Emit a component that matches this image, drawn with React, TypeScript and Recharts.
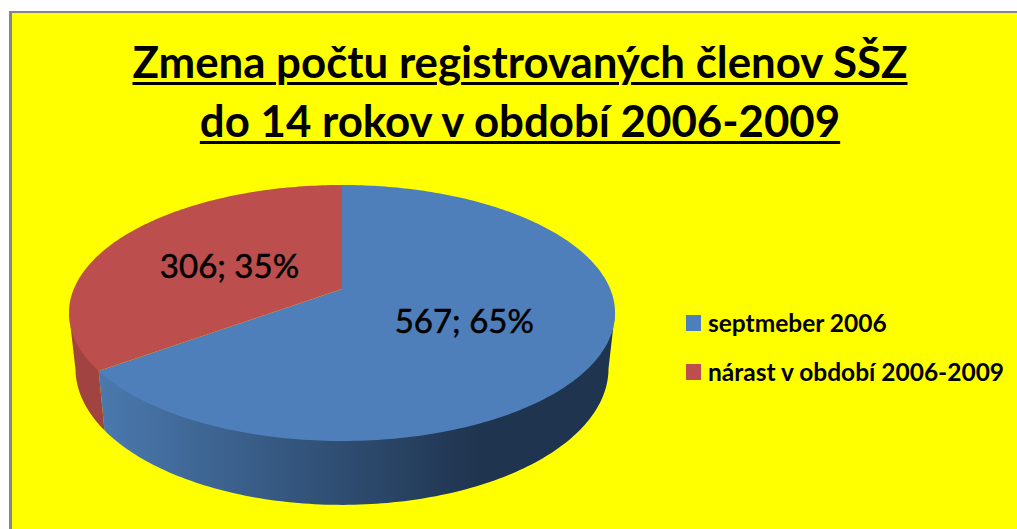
import { PieChart, Pie, Legend } from 'recharts'

const categories = ['septmeber 2006', 'nárast v období 2006-2009']
const values = [567, 306]
const colors = ['#4f7fba', '#bc4f4d']
const titleLines = ['Zmena počtu registrovaných členov SŠZ', 'do 14 rokov v období 2006-2009']

const data = categories.map((name, i) => ({ name, value: values[i], fill: colors[i] }))

const FONT = 'Lato, "Open Sans", sans-serif'

// 3D tilt of the pie: circle -> perspective projection, fitted to the picture
const CX = 342
const CY = 289
const KX = 268.2
const KY = 123.5
const K = 0.1875
const DEPTH = 54
const BOTTOM_SX = 0.976
const BOTTOM_SY = 1.065

function project(deg: number, r = 1) {
  const a = (deg * Math.PI) / 180
  const x = Math.cos(a) * r
  const y = -Math.sin(a) * r
  const w = 1 - K * y
  return { x: CX + (KX * x) / w, y: CY + (KY * y) / w, unit: y }
}

function arcPoints(start: number, end: number) {
  const steps = Math.max(2, Math.ceil(Math.abs(end - start)))
  const pts = []
  for (let i = 0; i <= steps; i++) {
    pts.push(project(start + ((end - start) * i) / steps))
  }
  return pts
}

function toPath(pts: { x: number; y: number }[]) {
  return pts.map((p, i) => `${i ? 'L' : 'M'}${p.x.toFixed(2)} ${p.y.toFixed(2)}`).join(' ')
}

function TopSector(props: any) {
  const pts = arcPoints(props.startAngle, props.endAngle)
  return <path d={`M${CX} ${CY} ${toPath(pts).replace('M', 'L')} Z`} fill={props.fill} stroke="none" />
}

function WallSector(props: any) {
  // only the part of the rim that faces the viewer
  const front = arcPoints(props.startAngle, props.endAngle).filter((p) => p.unit >= K)
  if (front.length < 2) return <g />
  const bottom = front
    .map((p) => ({
      x: CX + (p.x - CX) * BOTTOM_SX,
      y: CY + (p.y - CY) * BOTTOM_SY + DEPTH,
    }))
    .reverse()
  // top edge tucked a little under the lid so no yellow shows through the seam
  const upper = front.map((p) => ({ x: p.x, y: p.y - 1.5 }))
  const fill = props.index === 0 ? 'url(#blueWall)' : '#a04341'
  return <path d={`${toPath(upper)} ${toPath(bottom).replace('M', 'L')} Z`} fill={fill} stroke="none" />
}

function renderLabel(props: any) {
  const p = project(props.midAngle, 0.49)
  return (
    <text
      x={p.x}
      y={p.y + 2}
      textAnchor="middle"
      dominantBaseline="central"
      fill="#000"
      stroke="#000"
      strokeWidth={0.5}
      fontFamily={FONT}
      fontSize={33}
    >
      {`${props.value}; ${Math.round(props.percent * 100)}%`}
    </text>
  )
}

function LegendList({ payload }: any) {
  const items = (payload || []).filter((item: any) => item.type !== 'none')
  return (
    <div style={{ fontFamily: FONT, fontSize: 24.5, fontWeight: 700, color: '#000' }}>
      {items.map((item: any) => (
        <div key={item.value} style={{ display: 'flex', alignItems: 'center', height: 49 }}>
          <span style={{ width: 15, height: 16, background: item.color, marginRight: 7, flex: 'none' }} />
          <span style={{ whiteSpace: 'nowrap' }}>{item.value}</span>
        </div>
      ))}
    </div>
  )
}

export default function App() {
  return (
    <div style={{ position: 'absolute', left: 0, top: 0, width: 1017, height: 529, overflow: 'hidden', background: '#fff' }}>
      <div
        style={{
          position: 'absolute',
          left: 9,
          top: 11,
          width: 1008,
          height: 518,
          boxSizing: 'border-box',
          background: '#ffff00',
          borderLeft: '3px solid #868686',
          borderTop: '2px solid #868686',
        }}
      />
      <div style={{ position: 'absolute', left: 0, top: 0 }}>
        <PieChart width={1017} height={529} margin={{ top: 0, right: 0, bottom: 0, left: 0 }}>
          <defs>
            <linearGradient id="blueWall" gradientUnits="userSpaceOnUse" x1="100" y1="0" x2="480" y2="0">
              <stop offset="0" stopColor="#4a79ae" />
              <stop offset="1" stopColor="#1f344f" />
            </linearGradient>
          </defs>
          <Pie
            data={data}
            dataKey="value"
            nameKey="name"
            cx={CX}
            cy={CY}
            outerRadius={120}
            startAngle={90}
            endAngle={-270}
            stroke="none"
            legendType="none"
            shape={WallSector}
            isAnimationActive={false}
          />
          <Pie
            data={data}
            dataKey="value"
            nameKey="name"
            cx={CX}
            cy={CY}
            outerRadius={120}
            startAngle={90}
            endAngle={-270}
            stroke="none"
            legendType="rect"
            shape={TopSector}
            label={renderLabel}
            labelLine={false}
            isAnimationActive={false}
          />
          <Legend
            layout="vertical"
            align="left"
            verticalAlign="top"
            itemSorter={null}
            content={<LegendList />}
            wrapperStyle={{ position: 'absolute', left: 686, top: 298, width: 330 }}
          />
        </PieChart>
      </div>
      <div
        style={{
          position: 'absolute',
          left: 20,
          top: 32,
          width: 1000,
          textAlign: 'center',
          fontFamily: FONT,
          fontWeight: 700,
          fontSize: 43.8,
          lineHeight: '59px',
          color: '#000',
          textDecoration: 'underline',
          textDecorationThickness: 3,
          textUnderlineOffset: 4,
        }}
      >
        {titleLines.map((line) => (
          <div key={line}>{line}</div>
        ))}
      </div>
    </div>
  )
}
